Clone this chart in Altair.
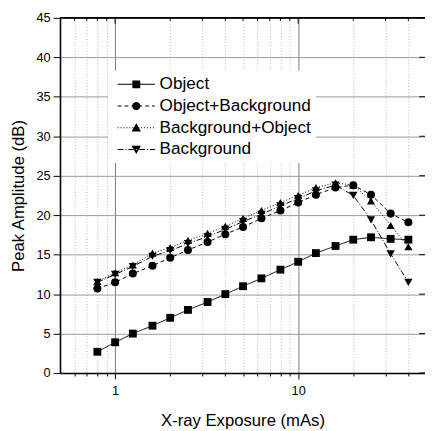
import altair as alt
import pandas as pd

# ---------------- data ----------------
x_mas = [0.8, 1, 1.25, 1.6, 2, 2.5, 3.2, 4, 5, 6.3, 8, 10, 12.5, 16, 20, 25, 32, 40]
object_db = [2.7, 3.9, 5.0, 6.0, 7.0, 8.0, 9.0, 10.0, 11.0, 12.0, 13.1, 14.1, 15.2, 16.1, 16.9, 17.2, 17.0, 16.9]
obj_bg_db = [10.7, 11.5, 12.6, 13.6, 14.6, 15.6, 16.6, 17.6, 18.5, 19.6, 20.6, 21.6, 22.6, 23.5, 23.8, 22.6, 20.2, 19.1]
bg_obj_db = [11.6, 12.7, 13.7, 15.2, 15.9, 16.8, 17.7, 18.6, 19.6, 20.6, 21.6, 22.5, 23.5, 24.1, 23.8, 21.8, 18.7, 16.0]
bg_db = [11.5, 12.5, 13.5, 14.8, 15.5, 16.4, 17.3, 18.2, 19.2, 20.1, 21.2, 22.1, 23.1, 23.8, 22.5, 19.4, 15.1, 11.5]
series_names = ["Object", "Object+Background", "Background+Object", "Background"]
series_values = [object_db, obj_bg_db, bg_obj_db, bg_db]

y_ticks = [0, 5, 10, 15, 20, 25, 30, 35, 40, 45]
x_major = [1, 10]
x_minor = [0.6, 0.7, 0.8, 0.9, 2, 3, 4, 5, 6, 7, 8, 9, 20, 30, 40]

# ---------------- styling ----------------
FONT = "Liberation Sans"
W, H = 372, 362
X_MIN, X_MAX = 0.5, 49.3
marker_shapes = ["square", "circle", "triangle-up", "triangle-down"]
marker_sizes = [64, 72, 90, 90]
dash_styles = [[1, 0], [4, 3], [1, 2], [6, 2, 1, 2]]

rows = []
for name, vals in zip(series_names, series_values):
    for xv, yv in zip(x_mas, vals):
        rows.append({"x": xv, "y": yv, "series": name})
df = pd.DataFrame(rows)

# legend symbols: line (thin filled bars) + marker, as custom symbol paths (unit = 4px)
C = 3.75
L0, L1 = -1.0, 8.5
HW = 0.13


def bar(a, b):
    return f"M{a:.3f},{-HW}H{b:.3f}V{HW}H{a:.3f}Z"


def line_path(pattern):
    if pattern == [1, 0]:
        return bar(L0, L1)
    segs = []
    pos, i, on = L0, 0, True
    while pos < L1 - 1e-9:
        ln = pattern[i % len(pattern)] / 4.0
        if on:
            segs.append(bar(pos, min(pos + ln, L1)))
        pos += ln
        on = not on
        i += 1
    return "".join(segs)


marker_paths = [
    f"M{C-1},-1H{C+1}V1H{C-1}Z",
    f"M{C+1.05},0A1.05,1.05 0 1,1 {C-1.05},0A1.05,1.05 0 1,1 {C+1.05},0Z",
    f"M{C},-1.15L{C+1.2},0.95H{C-1.2}Z",
    f"M{C},1.15L{C+1.2},-0.95H{C-1.2}Z",
]
legend_paths = [line_path(d) + m for d, m in zip(dash_styles, marker_paths)]

major_test = "datum.value == 1 || datum.value == 10"

x_enc = alt.X(
    "x:Q",
    scale=alt.Scale(type="log", domain=[X_MIN, X_MAX]),
    axis=alt.Axis(
        values=x_major + x_minor,
        labelExpr=f"({major_test}) ? format(datum.value, 'd') : ''",
        labelFlush=False,
        labelOverlap=False,
        tickSize={"condition": {"test": major_test, "value": 6}, "value": 3},
        labelPadding=6,
        grid=True,
        gridDash={"condition": {"test": major_test, "value": []}, "value": [1, 2]},
        gridColor={"condition": {"test": major_test, "value": "#7a7a7a"}, "value": "#b8b8b8"},
        title="X-ray Exposure (mAs)",
        titlePadding=15,
    ),
)
y_enc = alt.Y(
    "y:Q",
    scale=alt.Scale(domain=[0, 45], nice=False, zero=False),
    axis=alt.Axis(
        values=y_ticks,
        tickSize=7,
        labelPadding=3,
        labelFlush=False,
        grid=True,
        gridColor="#9a9a9a",
        title="Peak Amplitude (dB)",
        titlePadding=9,
    ),
)

base = alt.Chart(df)

lines = base.mark_line(color="black", strokeWidth=1).encode(
    x=x_enc,
    y=y_enc,
    strokeDash=alt.StrokeDash(
        "series:N", scale=alt.Scale(domain=series_names, range=dash_styles), legend=None
    ),
    detail="series:N",
)

points = base.mark_point(filled=True, color="black", opacity=1, strokeWidth=0).encode(
    x=x_enc,
    y=y_enc,
    shape=alt.Shape("series:N", scale=alt.Scale(domain=series_names, range=marker_shapes), legend=None),
    size=alt.Size("series:N", scale=alt.Scale(domain=series_names, range=marker_sizes), legend=None),
)

legend_layer = alt.Chart(pd.DataFrame({"series": series_names})).mark_point(
    filled=True, color="black", opacity=1, size=64, clip=True
).encode(
    x=alt.value(-60),
    y=alt.value(-60),
    shape=alt.Shape(
        "series:N",
        scale=alt.Scale(domain=series_names, range=legend_paths),
        sort=series_names,
        legend=alt.Legend(
            title=None,
            orient="none",
            legendX=49,
            legendY=54,
            padding=5,
            fillColor="white",
            symbolSize=64,
            symbolFillColor="black",
            symbolStrokeWidth=0,
            labelFont=FONT,
            labelFontSize=17.5,
            labelColor="black",
            labelOffset=30,
            rowPadding=3.1,
            labelLimit=400,
        ),
    ),
)

top_border = alt.Chart(pd.DataFrame({"y": [45]})).mark_rule(color="black", strokeWidth=1.6).encode(y=y_enc)

top_major = alt.Chart(pd.DataFrame({"x": x_major})).mark_rule(color="black", strokeWidth=1).encode(
    x=x_enc, y=alt.value(0), y2=alt.value(6)
)
top_minor = alt.Chart(pd.DataFrame({"x": x_minor})).mark_rule(color="black", strokeWidth=1).encode(
    x=x_enc, y=alt.value(0), y2=alt.value(3)
)
right_ticks = alt.Chart(pd.DataFrame({"y": y_ticks})).mark_rule(color="black", strokeWidth=1).encode(
    y=y_enc, x=alt.value(W - 6), x2=alt.value(W)
)

chart = (
    alt.layer(lines, points, top_border, top_major, top_minor, right_ticks, legend_layer)
    .resolve_scale(shape="independent")
    .properties(
        width=W,
        height=H,
        autosize=alt.AutoSizeParams(type="none"),
        padding={"left": 53, "top": 6, "right": 0, "bottom": 56},
        background="white",
    )
    .configure_view(stroke=None)
    .configure_axis(
        labelFont=FONT,
        labelFontSize=13,
        labelColor="black",
        titleFont=FONT,
        titleFontSize=17,
        titleFontWeight="normal",
        titleColor="black",
        domainColor="black",
        domainWidth=1.6,
        tickColor="black",
        tickWidth=1,
        gridWidth=1,
    )
)

chart.save("out.html", embed_options={"renderer": "svg", "actions": False})
